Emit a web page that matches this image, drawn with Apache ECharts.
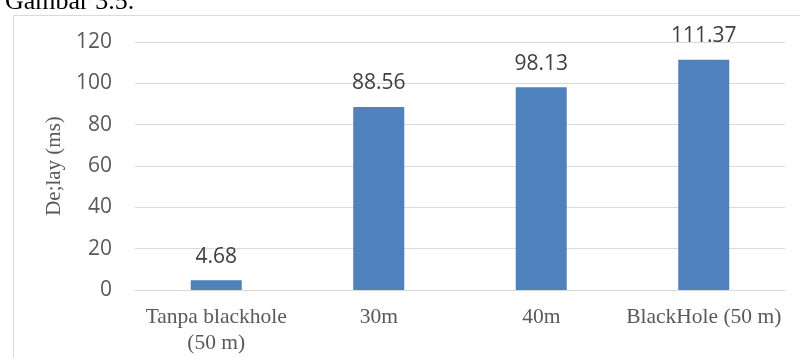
<!DOCTYPE html>
<html>
<head>
<meta charset="utf-8">
<style>
  html, body { margin: 0; padding: 0; background: #fff; }
  #chart { width: 800px; height: 358px; }
</style>
<script src="https://cdn.jsdelivr.net/npm/echarts@6/dist/echarts.min.js"></script>
</head>
<body>
<div id="chart"></div>
<script>
// Delay per scenario (ms)
const categories = ['Tanpa blackhole\n(50 m)', '30m', '40m', 'BlackHole (50 m)'];
const delayValues = [4.68, 88.56, 98.13, 111.37];
const yTicks = [0, 20, 40, 60, 80, 100, 120];

const chart = echarts.init(document.getElementById('chart'), null, { renderer: 'canvas' });

chart.setOption({
  animation: false,
  backgroundColor: '#ffffff',
  graphic: [
    {
      type: 'rect',
      left: 11, top: 13,
      shape: { width: 820, height: 400 },
      style: { fill: 'none', stroke: '#d9d9d9', lineWidth: 1 },
      silent: true
    },
    {
      type: 'text',
      x: 5, y: 15,
      style: {
        text: 'Gambar 3.5.',
        font: '26px "Liberation Serif", "Times New Roman", serif',
        fill: '#000',
        verticalAlign: 'bottom'
      },
      silent: true
    }
  ],
  grid: { left: 135, right: 15, top: 42, bottom: 68 },
  xAxis: {
    type: 'category',
    data: categories,
    axisTick: { show: false },
    axisLine: { lineStyle: { color: '#d9d9d9', width: 1 } },
    axisLabel: {
      color: '#595959',
      fontFamily: '"Liberation Serif", "Times New Roman", serif',
      fontSize: 21.5,
      lineHeight: 26,
      margin: 14,
      interval: 0
    }
  },
  yAxis: {
    type: 'value',
    min: yTicks[0],
    max: yTicks[yTicks.length - 1],
    interval: 20,
    name: 'De;lay (ms)',
    nameLocation: 'middle',
    nameGap: 61,
    nameRotate: 90,
    nameTextStyle: {
      color: '#595959',
      fontFamily: '"Liberation Serif", "Times New Roman", serif',
      fontSize: 21
    },
    axisLine: { show: false },
    axisTick: { show: false },
    splitLine: { lineStyle: { color: '#d9d9d9', width: 1 } },
    axisLabel: {
      color: '#595959',
      fontFamily: '"Open Sans", "Noto Sans", sans-serif',
      fontSize: 21,
      margin: 23
    }
  },
  series: [{
    type: 'bar',
    data: delayValues,
    barWidth: 51,
    itemStyle: { color: '#4f81bd' },
    label: {
      show: true,
      position: 'top',
      distance: 13,
      color: '#404040',
      fontFamily: '"Open Sans", "Noto Sans", sans-serif',
      fontSize: 21,
      formatter: p => p.value.toFixed(2)
    }
  }]
});
</script>
</body>
</html>
